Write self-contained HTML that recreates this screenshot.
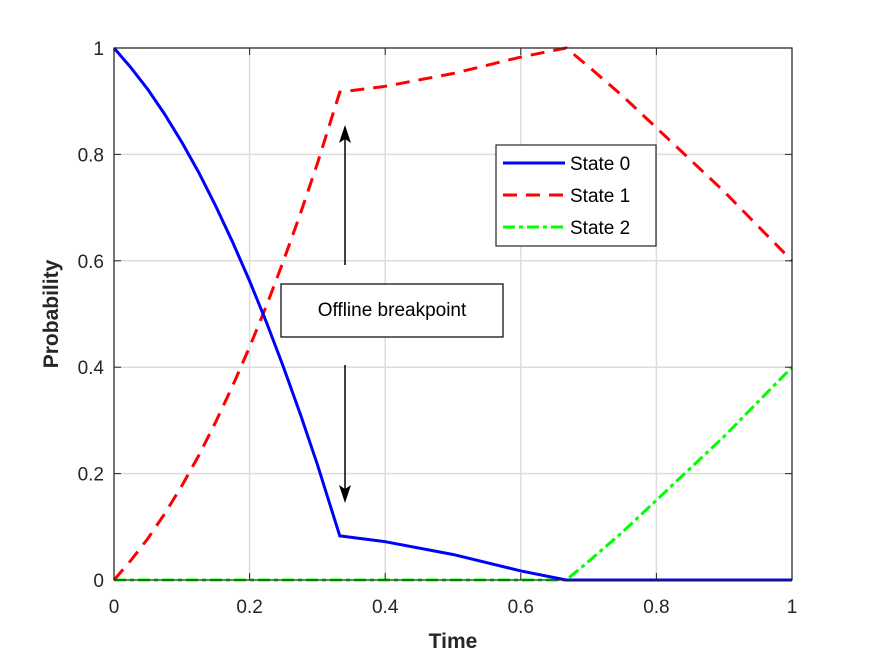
<!DOCTYPE html>
<html><head><meta charset="utf-8"><style>
body{margin:0;background:#fff;}
svg{display:block;font-family:"Liberation Sans",Arial,sans-serif;}
</style></head><body>
<svg id="chart" width="875" height="656">
<rect x="0" y="0" width="875" height="656" fill="#fff"/>
<g id="grid"></g>
<g id="series"></g>
<rect x="114" y="48" width="678" height="532" fill="none" stroke="#262626" stroke-width="1.2"/>
<g id="ticks"></g>
<text x="453" y="648" text-anchor="middle" font-size="21" font-weight="bold" fill="#262626">Time</text>
<text transform="translate(58,314) rotate(-90)" text-anchor="middle" font-size="21" font-weight="bold" fill="#262626">Probability</text>
<g>
<line x1="345" y1="265" x2="345" y2="130" stroke="#000" stroke-width="1.5"/>
<path d="M345,125 L339,143 L345,139 L351,143 Z" fill="#000"/>
<line x1="345" y1="365" x2="345" y2="498" stroke="#000" stroke-width="1.5"/>
<path d="M345,503 L339,485 L345,489 L351,485 Z" fill="#000"/>
<rect x="281" y="284" width="222" height="53" fill="#fff" stroke="#000" stroke-width="1.2"/>
<text x="392" y="316" text-anchor="middle" font-size="19" fill="#000">Offline breakpoint</text>
</g>
<g>
<rect x="496" y="145" width="160" height="101" fill="#fff" stroke="#262626" stroke-width="1.2"/>
<line x1="503" y1="163" x2="565" y2="163" stroke="#0000ff" stroke-width="3"/>
<text x="570" y="170" font-size="19" fill="#000">State 0</text>
<line x1="503" y1="195" x2="565" y2="195" stroke="#ff0000" stroke-width="3" stroke-dasharray="14,9"/>
<text x="570" y="202" font-size="19" fill="#000">State 1</text>
<line x1="503" y1="227" x2="565" y2="227" stroke="#00ff00" stroke-width="3" stroke-dasharray="12,4,4,4"/>
<text x="570" y="234" font-size="19" fill="#000">State 2</text>
</g>
</svg>
<script>
const times = [0,0.025,0.05,0.075,0.1,0.125,0.15,0.175,0.2,0.225,0.25,0.275,0.3,0.333,0.4,0.5,0.6,0.667,0.7,0.75,0.8,0.85,0.9,0.95,1];
const state0 = [1,0.963,0.922,0.875,0.823,0.766,0.703,0.635,0.562,0.484,0.40,0.311,0.217,0.083,0.072,0.048,0.017,0,0,0,0,0,0,0,0];
const state1 = [0,0.037,0.078,0.125,0.177,0.234,0.297,0.365,0.438,0.516,0.60,0.689,0.783,0.917,0.928,0.952,0.983,1,0.965,0.91,0.85,0.79,0.73,0.665,0.6];
const state2 = [0,0,0,0,0,0,0,0,0,0,0,0,0,0,0,0,0,0,0.035,0.09,0.15,0.21,0.27,0.335,0.4];
const xTicks = [0,0.2,0.4,0.6,0.8,1];
const yTicks = [0,0.2,0.4,0.6,0.8,1];
const xTickLabels = ["0","0.2","0.4","0.6","0.8","1"];
const yTickLabels = ["0","0.2","0.4","0.6","0.8","1"];
const NS="http://www.w3.org/2000/svg";
const X=v=>114+v*678, Y=v=>580-v*532;
const grid=document.getElementById('grid'), ticks=document.getElementById('ticks'), ser=document.getElementById('series');
function mk(tag,attrs,parent){const e=document.createElementNS(NS,tag);for(const k in attrs)e.setAttribute(k,attrs[k]);parent.appendChild(e);return e;}
xTicks.forEach((t,i)=>{
 const g=mk('line',{x1:X(t),x2:X(t),y1:48,y2:580,stroke:'#dcdcdc','stroke-width':1.5},grid);
 
 
 mk('line',{x1:X(t),x2:X(t),y1:580,y2:573,stroke:'#262626'},ticks);
 mk('line',{x1:X(t),x2:X(t),y1:48,y2:55,stroke:'#262626'},ticks);
 const l=mk('text',{x:X(t),y:613,'text-anchor':'middle','font-size':19,fill:'#262626'},ticks);
 l.textContent=xTickLabels[i];
 
 
});
yTicks.forEach((t,i)=>{
 const g=mk('line',{x1:114,x2:792,y1:Y(t),y2:Y(t),stroke:'#dcdcdc','stroke-width':1.5},grid);
 
 
 mk('line',{x1:114,x2:121,y1:Y(t),y2:Y(t),stroke:'#262626'},ticks);
 mk('line',{x1:785,x2:792,y1:Y(t),y2:Y(t),stroke:'#262626'},ticks);
 const l=mk('text',{x:104,y:Y(t)+7,'text-anchor':'end','font-size':19,fill:'#262626'},ticks);
 l.textContent=yTickLabels[i];
 
 
});
function line(vals,color,dash,name){
 const p=mk('polyline',{points:vals.map((v,i)=>X(times[i])+','+Y(v)).join(' '),fill:'none',stroke:color,'stroke-width':3,'stroke-dasharray':dash},ser);
 
 
}
line(state2,'#00ff00','12,4,4,4','line-state2');
line(state1,'#ff0000','14,9','line-state1');
line(state0,'#0000ff','none','line-state0');
</script>
</body></html>
